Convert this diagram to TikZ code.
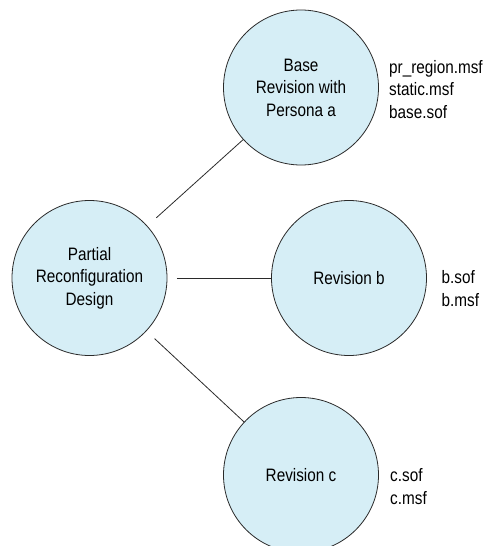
\documentclass[tikz,border=0pt]{standalone}
\usepackage{fontspec}
\setmainfont{Liberation Sans}[FakeStretch=0.85]
\definecolor{bubble}{HTML}{D6EEF6}
\definecolor{edge}{HTML}{2A2A2A}
\begin{document}
\begin{tikzpicture}[x=1pt,y=-1pt,
  every node/.style={font=\fontsize{18}{22.5}\selectfont},
  bubble/.style={circle,draw=edge,fill=bubble,line width=0.8pt,minimum size=155pt,inner sep=0pt,align=center},
  files/.style={anchor=base west,align=left,inner sep=0pt},
  conn/.style={draw=edge,line width=0.8pt}]
\useasboundingbox (0,0) rectangle (486,546);
\node[bubble] (pr)   at (89.5,278) {\raisebox{-7.5pt}{\begin{tabular}{@{}c@{}}Partial\\Reconfiguration\\Design\end{tabular}}};
\node[bubble] (base) at (301,87.5) {Base\\Revision with\\Persona a};
\node[bubble] (rb)   at (349,278) {Revision b};
\node[bubble] (rc)   at (301,475) {Revision c};
\node[files] (fa) at (389,118) {pr\_region.msf\\static.msf\\base.sof};
\node[files] (fb) at (441.5,306) {b.sof\\b.msf};
\node[files] (fc) at (390,504) {c.sof\\c.msf};
\draw[conn,shorten <=12pt] (pr) -- (base);
\draw[conn,shorten <=9.5pt] (pr) -- (rb);
\draw[conn,shorten <=11pt] (pr) -- (rc);
\end{tikzpicture}
\end{document}
